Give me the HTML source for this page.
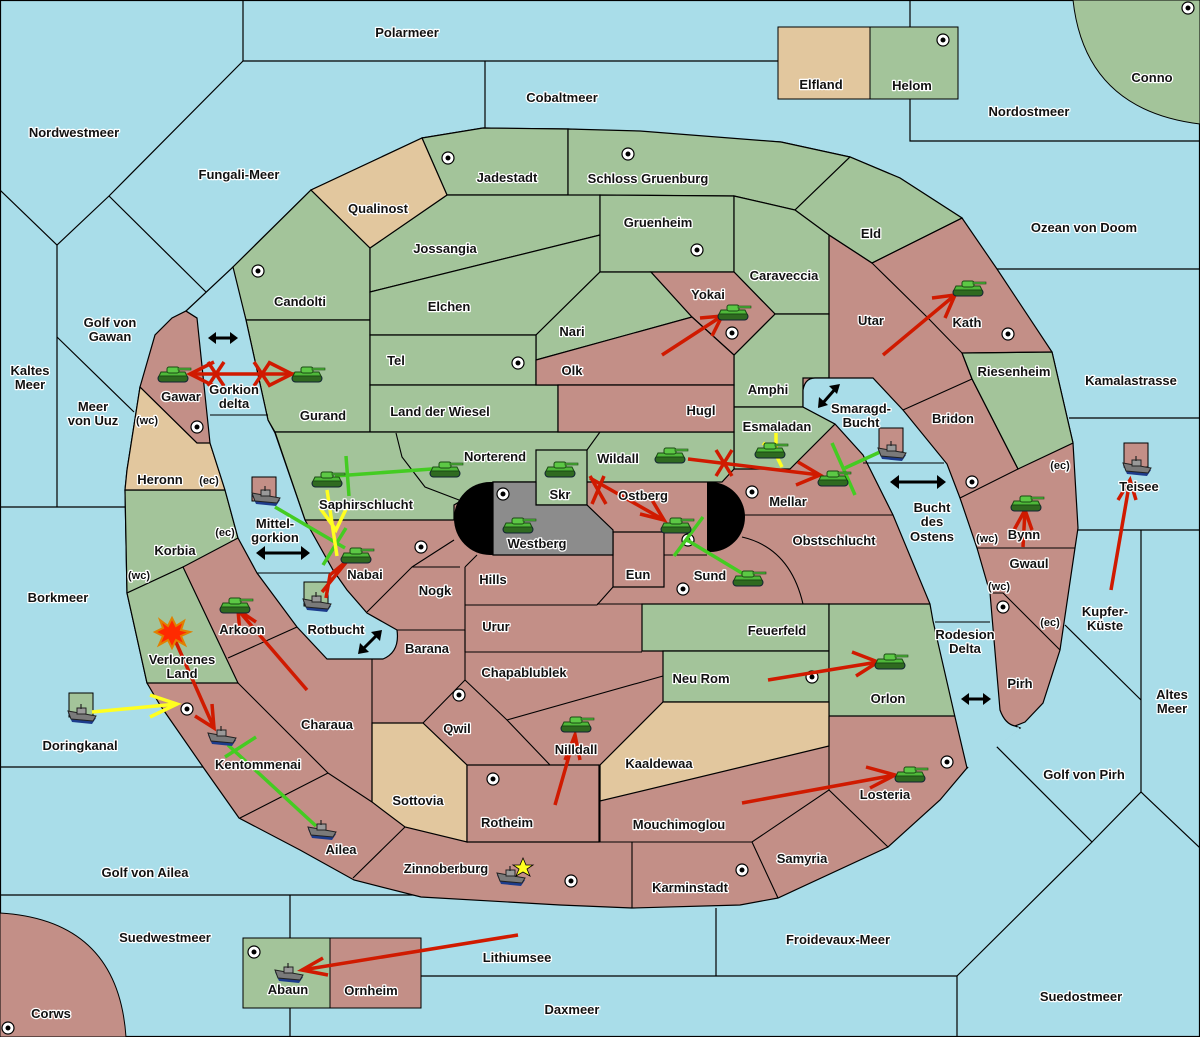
<!DOCTYPE html>
<html><head><meta charset="utf-8"><style>
html,body{margin:0;padding:0;background:#a9dde9;}
svg{display:block}
text{font-family:"Liberation Sans",sans-serif;font-weight:bold;font-size:13px;fill:#111;stroke:#fff;stroke-width:2.5px;paint-order:stroke;text-anchor:middle;stroke-linejoin:round}
</style></head><body>
<svg width="1200" height="1037" viewBox="0 0 1200 1037" xmlns="http://www.w3.org/2000/svg">
<defs>
<symbol id="tank" viewBox="0 0 34 20" overflow="visible">
<rect x="0" y="11" width="30" height="7" rx="3.5" fill="#2f6a20" stroke="#123" stroke-width="1"/>
<path d="M3 8 L27 8 L29 12 L1 12 Z" fill="#4fb83a" stroke="#1a4a12" stroke-width="1"/>
<rect x="9" y="3" width="12" height="6" rx="2" fill="#5cc845" stroke="#1a4a12" stroke-width="1"/>
<rect x="20" y="4" width="13" height="2" fill="#4fb83a" stroke="#1a4a12" stroke-width=".6"/>
</symbol>
<symbol id="ship" viewBox="0 0 30 20" overflow="visible">
<path d="M0 9 L28 14 L24 20 L4 18 Z" fill="#1d3c8c"/>
<path d="M0 7 L28 12 L25 17 L3 15 Z" fill="#7a7a7a" stroke="#222" stroke-width="1"/>
<rect x="9" y="4" width="9" height="6" fill="#999" stroke="#222" stroke-width="1"/>
<line x1="13" y1="0" x2="13" y2="5" stroke="#222" stroke-width="1.2"/>
</symbol>
<symbol id="sc" viewBox="-7 -7 14 14" overflow="visible">
<circle r="6" fill="#fff" stroke="#000" stroke-width="1.2"/><circle r="2.5" fill="#000"/>
</symbol>
</defs>

<g stroke="#000" stroke-width="1.2" fill="none">
<rect x="0.5" y="0.5" width="1199" height="1036"/>
<polyline points="243,0 243,61 910,61"/>
<line x1="485" y1="61" x2="485" y2="128"/>
<polyline points="910,0 910,27"/><polyline points="910,99 910,141 1200,141"/>
<polyline points="243,61 109,196 57,245 0,190"/>
<polyline points="109,196 207,293"/>
<line x1="57" y1="245" x2="57" y2="507"/>
<line x1="57" y1="337" x2="134" y2="412"/>
<line x1="0" y1="507" x2="125" y2="507"/>
<line x1="0" y1="767" x2="203" y2="767"/>
<line x1="0" y1="895" x2="421" y2="895"/>
<line x1="290" y1="895" x2="290" y2="938"/><line x1="290" y1="1008" x2="290" y2="1037"/>
<polyline points="421,976 957,976 957,1037"/>
<line x1="716" y1="908" x2="716" y2="976"/>
<polyline points="957,976 1092,842 994,744 967,768"/>
<line x1="994" y1="744" x2="1015" y2="726"/>
<polyline points="1092,842 1141,792 1200,848"/>
<line x1="1141" y1="792" x2="1141" y2="530"/>
<line x1="1078" y1="530" x2="1200" y2="530"/>
<line x1="1065" y1="625" x2="1141" y2="700"/>
<line x1="1069" y1="418" x2="1200" y2="418"/>
<line x1="996" y1="269" x2="1200" y2="269"/>
</g>
<path d="M1073,0 Q1085,110 1200,124 L1200,0 Z" fill="#a3c49a" stroke="#000"/>
<path d="M0,913 Q118,920 126,1037 L0,1037 Z" fill="#c38f87" stroke="#000"/>
<rect x="778" y="27" width="92" height="72" fill="#e2c79e" stroke="#000"/>
<rect x="870" y="27" width="88" height="72" fill="#a3c49a" stroke="#000"/>
<rect x="243" y="938" width="87" height="70" fill="#a3c49a" stroke="#000"/>
<rect x="330" y="938" width="91" height="70" fill="#c38f87" stroke="#000"/>

<polygon fill="#c38f87" stroke="#000" stroke-width="1.2" points="233,267 311,190 422,138 483,128 568,129 781,142 850,157 900,178 962,218 997,269 1052,352 1073,443 1078,528 1075,548 1060,650 1043,703 1025,722 1015,726 1020,728 967,768 940,800 888,847 778,898 740,905 632,908 560,905 421,897 354,880 300,850 239,818 203,767 160,705 147,683 127,593 125,490 127,470 140,387 155,335 172,318 186,311 197,318"/>

<g stroke="#000" stroke-width="1.2">
<g fill="#a3c49a">
<polygon points="232,268 311,190 370,248 370,320 246,320"/>
<polygon points="246,320 370,320 370,432 275,432 268,420"/>
<polygon points="422,138 483,128 568,129 568,195 447,195"/>
<polygon points="568,129 640,131 781,142 850,157 795,210 734,196 568,195"/>
<polygon points="795,210 850,157 900,178 962,218 872,263 829,235"/>
<polygon points="370,248 447,195 600,195 600,235 370,292"/>
<polygon points="370,292 600,235 600,272 536,335 370,335"/>
<polygon points="600,195 734,196 734,272 600,272"/>
<polygon points="536,335 600,272 651,272 692,317 536,360"/>
<polygon points="734,196 795,210 829,235 829,314 775,314 734,272"/>
<polygon points="370,335 536,335 536,385 370,385"/>
<polygon points="370,385 558,385 558,432 370,432"/>
<polygon points="734,355 775,314 829,314 829,378 803,378 803,407 734,407"/>
<polygon points="734,407 803,407 835,424 790,469 734,469"/>
<polygon points="962,353 1052,352 1073,443 1018,469 972,379"/>
<polygon points="275,432 734,432 734,469 722,482 493,482 454,505 454,520 305,520"/>
<polygon points="536,450 587,450 587,505 536,505"/>
<polygon points="642,604 829,604 829,651 642,651"/>
<polygon points="663,651 829,651 829,702 663,702"/>
<polygon points="829,604 930,604 955,716 829,716"/>
<polygon points="125,490 225,490 238,538 183,567 127,593"/>
<polygon points="127,593 183,567 238,683 147,683"/>
</g>
<g fill="#e2c79e">
<polygon points="311,190 422,138 447,195 370,248"/>
<polygon points="663,702 829,702 829,746 600,801 600,765"/>
<polygon points="372,723 423,723 467,765 467,842 405,827 372,802"/>
<polygon points="140,387 197,443 210,443 225,490 125,490 127,470"/>
</g>
<g fill="#c38f87">
<polygon points="651,272 734,272 775,314 734,355 692,317"/>
<polygon points="536,360 692,317 734,355 734,385 536,385"/>
<polygon points="558,385 734,385 734,432 558,432"/>
<polygon points="613,532 664,532 664,587 613,587"/>
<polygon points="467,765 599,765 599,842 467,842"/>
</g>
<polygon fill="#8c8c8c" points="493,482 536,482 536,505 587,505 613,530 613,555 493,555"/>
</g>

<g stroke="#000" stroke-width="1.1" fill="none">
<polyline points="829,235 872,263 927,317 962,353 972,379 903,410"/>
<polyline points="872,263 962,218"/>
<line x1="829" y1="235" x2="829" y2="378"/>
<polyline points="962,353 1052,352"/>
<polyline points="972,379 1018,469 960,498"/>
<polyline points="977,548 1075,548"/>
<polyline points="990,593 1003,593 1060,650"/>
<polyline points="140,387 197,443 210,443 210,318"/>
<polyline points="396,433 402,457 425,487 459,500"/>
<polyline points="587,450 600,432"/>
<line x1="740" y1="515" x2="893" y2="515"/>
<path d="M742,537 Q790,548 803,604"/>
<line x1="597" y1="604" x2="929" y2="604"/>
<line x1="597" y1="605" x2="613" y2="587"/>
<line x1="664" y1="555" x2="707" y2="555"/>
<line x1="477" y1="555" x2="465" y2="567"/>
<polyline points="465,567 465,652"/>
<line x1="465" y1="605" x2="597" y2="605"/>
<line x1="465" y1="652" x2="642" y2="652"/>
<polyline points="367,612 412,567 460,567"/>
<line x1="397" y1="630" x2="465" y2="630"/>
<line x1="465" y1="630" x2="465" y2="680"/>
<polyline points="372,659 372,802"/>
<polyline points="423,723 465,680 507,720 550,765"/>
<line x1="507" y1="720" x2="663" y2="676"/>
<polyline points="600,765 600,842 752,842 829,790 829,716"/>
<polyline points="752,842 778,898"/>
<polyline points="829,790 888,847"/>
<line x1="632" y1="842" x2="632" y2="908"/>
<line x1="405" y1="827" x2="353" y2="878"/>
<polyline points="240,818 328,773 372,802"/>
<polyline points="238,683 328,773"/>
<line x1="228" y1="658" x2="297" y2="627"/>
<line x1="305" y1="520" x2="454" y2="520"/>
<line x1="412" y1="567" x2="454" y2="540"/>
</g>

<g fill="#a9dde9" stroke="#000" stroke-width="1.2">
<path d="M186,311 L233,267 L246,320 L268,420 L275,433 L305,520 L333,570 L347,590 L367,613 L397,630 Q400,652 383,659 L327,659 L297,627 L257,573 L238,538 L225,490 L210,443 L197,318 Z"/>
<path d="M815,378 L873,378 L903,410 L947,464 L960,498 L977,548 L990,593 L1000,710 Q1005,724 1015,726 L1020,728 L967,768 L955,717 L933,621 L930,604 L893,515 L863,455 L835,424 L803,407 L803,390 Q805,378 815,378 Z"/>
</g>
<g stroke="#a9dde9" stroke-width="3"><line x1="1019" y1="728" x2="968" y2="767"/></g>
<g stroke="#000" stroke-width="1.1">
<line x1="210" y1="415" x2="268" y2="415"/><line x1="257" y1="573" x2="333" y2="573"/>
<line x1="863" y1="463" x2="944" y2="463"/><line x1="935" y1="622" x2="990" y2="622"/>
</g>

<path d="M493,482 L490,482 A36,36.5 0 0 0 490,555 L493,555 Z" fill="#000"/>
<path d="M707,482 L710,482 A35,35 0 0 1 710,552 L707,552 Z" fill="#000"/>

<g>
<use href="#sc" x="441" y="151" width="14" height="14"/><use href="#sc" x="621" y="147" width="14" height="14"/>
<use href="#sc" x="251" y="264" width="14" height="14"/><use href="#sc" x="690" y="243" width="14" height="14"/>
<use href="#sc" x="725" y="326" width="14" height="14"/><use href="#sc" x="511" y="356" width="14" height="14"/>
<use href="#sc" x="190" y="420" width="14" height="14"/><use href="#sc" x="414" y="540" width="14" height="14"/>
<use href="#sc" x="496" y="487" width="14" height="14"/><use href="#sc" x="745" y="485" width="14" height="14"/>
<use href="#sc" x="681" y="533" width="14" height="14"/><use href="#sc" x="676" y="582" width="14" height="14"/>
<use href="#sc" x="965" y="475" width="14" height="14"/><use href="#sc" x="1001" y="327" width="14" height="14"/>
<use href="#sc" x="996" y="600" width="14" height="14"/><use href="#sc" x="940" y="755" width="14" height="14"/>
<use href="#sc" x="805" y="670" width="14" height="14"/><use href="#sc" x="452" y="688" width="14" height="14"/>
<use href="#sc" x="486" y="772" width="14" height="14"/><use href="#sc" x="564" y="874" width="14" height="14"/>
<use href="#sc" x="735" y="863" width="14" height="14"/><use href="#sc" x="180" y="702" width="14" height="14"/>
<use href="#sc" x="936" y="33" width="14" height="14"/><use href="#sc" x="1181" y="1" width="14" height="14"/>
<use href="#sc" x="1" y="1021" width="14" height="14"/><use href="#sc" x="247" y="945" width="14" height="14"/>
</g>

<g stroke="#000" stroke-width="1">
<rect x="252" y="477" width="24" height="24" fill="#c38f87"/>
<rect x="304" y="582" width="24" height="24" fill="#a3c49a"/>
<rect x="879" y="428" width="24" height="24" fill="#c38f87"/>
<rect x="1124" y="443" width="24" height="24" fill="#c38f87"/>
<rect x="69" y="693" width="24" height="24" fill="#a3c49a"/>
</g>

<g stroke-width="3.5" fill="none" stroke-linecap="butt">
<g stroke="#d01a00">
<line x1="308" y1="374" x2="190" y2="374"/><polyline points="214,362 190,374 214,386"/>
<polyline points="268,362 292,374 268,386"/>
<path d="M208,362 L224,386 M224,362 L208,386 M254,362 L270,386 M270,362 L254,386"/>
<line x1="662" y1="355" x2="722" y2="316"/><polyline points="700,318 722,316 712,336"/>
<line x1="883" y1="355" x2="955" y2="295"/><polyline points="932,298 955,295 945,318"/>
<line x1="555" y1="805" x2="575" y2="735"/><polyline points="565,760 575,735 580,760"/>
<line x1="1023" y1="547" x2="1025" y2="510"/><polyline points="1014,530 1025,510 1032,530"/>
<line x1="1111" y1="590" x2="1130" y2="480"/><polyline points="1118,500 1130,480 1136,500"/>
<line x1="768" y1="680" x2="878" y2="662"/><polyline points="852,652 878,662 856,676"/>
<line x1="742" y1="803" x2="895" y2="775"/><polyline points="866,767 895,775 870,788"/>
<line x1="518" y1="935" x2="302" y2="970"/><polyline points="323,958 302,970 328,975"/>
<line x1="307" y1="690" x2="238" y2="610"/><polyline points="240,633 238,610 256,622"/>
<line x1="175" y1="640" x2="214" y2="728"/><polyline points="212,704 214,728 195,716"/>
<line x1="590" y1="478" x2="664" y2="520"/><polyline points="640,514 664,520 652,500"/>
<path d="M590,476 L606,504 M604,476 L592,504"/>
<line x1="688" y1="459" x2="820" y2="475"/><polyline points="798,462 820,475 796,485"/>
<path d="M716,450 L732,476 M732,450 L716,476"/>
<polyline points="322,592 348,560 330,575 326,598"/>
</g>
<g stroke="#44cc22">
<line x1="335" y1="476" x2="446" y2="468"/><line x1="346" y1="456" x2="349" y2="496"/>
<line x1="275" y1="507" x2="345" y2="548"/><line x1="323" y1="565" x2="346" y2="528"/>
<line x1="687" y1="540" x2="750" y2="578"/><line x1="674" y1="556" x2="703" y2="517"/>
<line x1="228" y1="745" x2="316" y2="826"/><line x1="225" y1="757" x2="256" y2="737"/>
<line x1="845" y1="468" x2="880" y2="452"/><line x1="832" y1="443" x2="855" y2="495"/>
</g>
<g stroke="#ffff20">
<line x1="92" y1="712" x2="177" y2="704"/><polyline points="150,695 177,704 150,717"/>
<path d="M327,490 L337,556 M320,508 L336,530 L348,505"/>
<path d="M776,433 L776,448 M763,443 L775,453 L782,467"/>
</g>
</g>

<g>
<use href="#tank" x="158" y="364" width="34" height="20"/><use href="#tank" x="292" y="364" width="34" height="20"/>
<use href="#tank" x="312" y="469" width="34" height="20"/><use href="#tank" x="430" y="459" width="34" height="20"/>
<use href="#tank" x="341" y="545" width="34" height="20"/><use href="#tank" x="220" y="595" width="34" height="20"/>
<use href="#tank" x="545" y="459" width="34" height="20"/><use href="#tank" x="503" y="515" width="34" height="20"/>
<use href="#tank" x="655" y="445" width="34" height="20"/><use href="#tank" x="661" y="515" width="34" height="20"/>
<use href="#tank" x="755" y="440" width="34" height="20"/><use href="#tank" x="818" y="468" width="34" height="20"/>
<use href="#tank" x="733" y="568" width="34" height="20"/><use href="#tank" x="718" y="302" width="34" height="20"/>
<use href="#tank" x="953" y="278" width="34" height="20"/><use href="#tank" x="1011" y="493" width="34" height="20"/>
<use href="#tank" x="875" y="651" width="34" height="20"/><use href="#tank" x="895" y="764" width="34" height="20"/>
<use href="#tank" x="561" y="714" width="34" height="20"/>
</g>
<g>
<use href="#ship" x="252" y="486" width="30" height="20"/><use href="#ship" x="303" y="592" width="30" height="20"/>
<use href="#ship" x="208" y="726" width="30" height="20"/><use href="#ship" x="308" y="820" width="30" height="20"/>
<use href="#ship" x="497" y="866" width="30" height="20"/><use href="#ship" x="878" y="441" width="30" height="20"/>
<use href="#ship" x="1123" y="456" width="30" height="20"/><use href="#ship" x="68" y="704" width="30" height="20"/>
<use href="#ship" x="275" y="963" width="30" height="20"/>
</g>
<polygon fill="#ff2a00" stroke="#e08000" stroke-width="2" points="172,618 176,626 184,621 181,630 190,632 181,636 185,645 176,640 172,648 168,640 159,645 163,636 155,632 163,628 160,620 168,626"/>
<polygon fill="#ffff20" stroke="#000" stroke-width=".8" points="523,858 526,865 533,865 527,869 530,876 523,872 516,876 519,869 513,865 520,865"/>

<g stroke="#000" stroke-width="3" fill="#000">
<line x1="213" y1="338" x2="233" y2="338"/><polygon points="208,338 216,332 216,344" stroke="none"/><polygon points="238,338 230,332 230,344" stroke="none"/>
<line x1="262" y1="553" x2="304" y2="553"/><polygon points="256,553 265,546 265,560" stroke="none"/><polygon points="310,553 301,546 301,560" stroke="none"/>
<line x1="362" y1="650" x2="378" y2="634"/><polygon points="358,654 360,643 369,652" stroke="none"/><polygon points="382,630 371,632 380,641" stroke="none"/>
<line x1="822" y1="404" x2="836" y2="388"/><polygon points="818,408 819,397 828,405" stroke="none"/><polygon points="840,384 829,386 837,394" stroke="none"/>
<line x1="896" y1="482" x2="940" y2="482"/><polygon points="890,482 899,475 899,489" stroke="none"/><polygon points="946,482 937,475 937,489" stroke="none"/>
<line x1="966" y1="699" x2="986" y2="699"/><polygon points="961,699 969,693 969,705" stroke="none"/><polygon points="991,699 983,693 983,705" stroke="none"/>
</g>

<g>
<text x="407" y="37">Polarmeer</text><text x="562" y="102">Cobaltmeer</text><text x="74" y="137">Nordwestmeer</text>
<text x="239" y="179">Fungali-Meer</text><text x="821" y="89">Elfland</text><text x="912" y="90">Helom</text>
<text x="1152" y="82">Conno</text><text x="1029" y="116">Nordostmeer</text><text x="507" y="182">Jadestadt</text>
<text x="648" y="183">Schloss Gruenburg</text><text x="378" y="213">Qualinost</text><text x="658" y="227">Gruenheim</text>
<text x="1084" y="232">Ozean von Doom</text><text x="871" y="238">Eld</text><text x="445" y="253">Jossangia</text>
<text x="784" y="280">Caraveccia</text><text x="300" y="306">Candolti</text><text x="708" y="299">Yokai</text>
<text x="449" y="311">Elchen</text><text x="110" y="327">Golf von</text><text x="110" y="341">Gawan</text>
<text x="871" y="325">Utar</text><text x="967" y="327">Kath</text><text x="572" y="336">Nari</text>
<text x="396" y="365">Tel</text><text x="572" y="375">Olk</text><text x="30" y="375">Kaltes</text><text x="30" y="389">Meer</text>
<text x="1014" y="376">Riesenheim</text><text x="1131" y="385">Kamalastrasse</text><text x="768" y="394">Amphi</text>
<text x="181" y="401">Gawar</text><text x="234" y="394">Gorkion</text><text x="234" y="408">delta</text>
<text x="93" y="411">Meer</text><text x="93" y="425">von Uuz</text><text x="147" y="424" style="font-size:11px">(wc)</text>
<text x="701" y="415">Hugl</text><text x="440" y="416">Land der Wiesel</text><text x="323" y="420">Gurand</text>
<text x="861" y="413">Smaragd-</text><text x="861" y="427">Bucht</text><text x="953" y="423">Bridon</text>
<text x="777" y="431">Esmaladan</text><text x="495" y="461">Norterend</text><text x="618" y="463">Wildall</text>
<text x="1060" y="469" style="font-size:11px">(ec)</text><text x="160" y="484">Heronn</text><text x="209" y="484" style="font-size:11px">(ec)</text>
<text x="1139" y="491">Teisee</text><text x="560" y="499">Skr</text><text x="643" y="500">Ostberg</text>
<text x="788" y="506">Mellar</text><text x="366" y="509">Saphirschlucht</text>
<text x="932" y="512">Bucht</text><text x="932" y="526">des</text><text x="932" y="541">Ostens</text>
<text x="275" y="528">Mittel-</text><text x="275" y="542">gorkion</text><text x="225" y="536" style="font-size:11px">(ec)</text>
<text x="987" y="542" style="font-size:11px">(wc)</text><text x="1024" y="539">Bynn</text><text x="834" y="545">Obstschlucht</text>
<text x="537" y="548">Westberg</text><text x="175" y="555">Korbia</text><text x="1029" y="568">Gwaul</text>
<text x="365" y="579">Nabai</text><text x="710" y="580">Sund</text><text x="638" y="579">Eun</text>
<text x="139" y="579" style="font-size:11px">(wc)</text><text x="493" y="584">Hills</text><text x="435" y="595">Nogk</text>
<text x="999" y="590" style="font-size:11px">(wc)</text><text x="58" y="602">Borkmeer</text>
<text x="1105" y="616">Kupfer-</text><text x="1105" y="630">Küste</text><text x="496" y="631">Urur</text>
<text x="242" y="634">Arkoon</text><text x="336" y="634">Rotbucht</text><text x="777" y="635">Feuerfeld</text>
<text x="1050" y="626" style="font-size:11px">(ec)</text><text x="965" y="639">Rodesion</text><text x="965" y="653">Delta</text>
<text x="182" y="664">Verlorenes</text><text x="182" y="678">Land</text><text x="427" y="653">Barana</text>
<text x="524" y="677">Chapablublek</text><text x="701" y="683">Neu Rom</text><text x="1020" y="688">Pirh</text>
<text x="888" y="703">Orlon</text><text x="1172" y="699">Altes</text><text x="1172" y="713">Meer</text>
<text x="327" y="729">Charaua</text><text x="457" y="733">Qwil</text><text x="80" y="750">Doringkanal</text>
<text x="576" y="754">Nilldall</text><text x="659" y="768">Kaaldewaa</text><text x="258" y="769">Kentommenai</text>
<text x="1084" y="779">Golf von Pirh</text><text x="885" y="799">Losteria</text><text x="418" y="805">Sottovia</text>
<text x="507" y="827">Rotheim</text><text x="679" y="829">Mouchimoglou</text><text x="341" y="854">Ailea</text>
<text x="802" y="863">Samyria</text><text x="446" y="873">Zinnoberburg</text><text x="145" y="877">Golf von Ailea</text>
<text x="690" y="892">Karminstadt</text><text x="165" y="942">Suedwestmeer</text><text x="838" y="944">Froidevaux-Meer</text>
<text x="517" y="962">Lithiumsee</text><text x="288" y="994">Abaun</text><text x="371" y="995">Ornheim</text>
<text x="1081" y="1001">Suedostmeer</text><text x="572" y="1014">Daxmeer</text><text x="51" y="1018">Corws</text>
</g>
</svg>
</body></html>
